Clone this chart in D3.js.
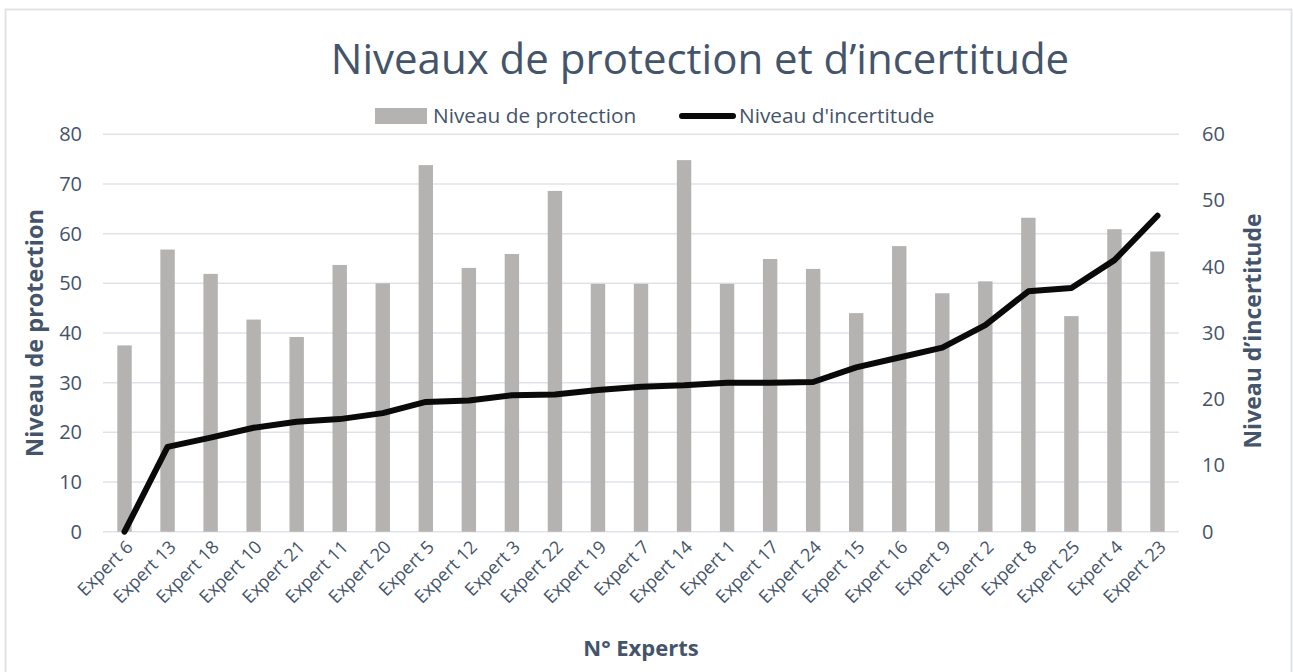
<!DOCTYPE html>
<html>
<head>
<meta charset="utf-8">
<script src="https://cdn.jsdelivr.net/npm/d3@7"></script>
<style>
  html, body { margin: 0; padding: 0; background: #fff; }
  svg { display: block; font-family: "Open Sans", "Noto Sans", sans-serif; }
</style>
</head>
<body>
<svg id="chart" width="1293" height="672"></svg>
<script>
// Experts, sorted by uncertainty level
const experts = ["Expert 6","Expert 13","Expert 18","Expert 10","Expert 21","Expert 11","Expert 20","Expert 5","Expert 12","Expert 3","Expert 22","Expert 19","Expert 7","Expert 14","Expert 1","Expert 17","Expert 24","Expert 15","Expert 16","Expert 9","Expert 2","Expert 8","Expert 25","Expert 4","Expert 23"];
// Protection level (left axis, bars)
const protection = [37.5,56.8,51.9,42.7,39.2,53.7,50,73.8,53.1,55.9,68.6,49.9,49.9,74.8,49.9,54.9,52.9,44,57.5,48,50.4,63.2,43.4,60.9,56.4];
// Uncertainty level (right axis, line)
const uncertainty = [0,12.8,14.2,15.7,16.6,17,17.9,19.6,19.8,20.6,20.7,21.4,21.9,22.1,22.5,22.5,22.6,24.8,26.3,27.8,31.2,36.3,36.8,41,47.7];
const leftTicks = [0,10,20,30,40,50,60,70,80];
const rightTicks = [0,10,20,30,40,50,60];

const font = "'Open Sans', 'Noto Sans', sans-serif";
const textColor = "#44546a";
const gridColor = "#dfe3e9";
const barColor = "#b4b3b1";

const svg = d3.select("#chart");

// chart frame
svg.append("rect")
  .attr("x", 5.5).attr("y", 9.5).attr("width", 1286).attr("height", 680)
  .attr("fill", "none").attr("stroke", "#e0e3e8").attr("stroke-width", 2);

const plot = { left: 103, right: 1179, top: 134.3, bottom: 531.7 };

const x = d3.scaleBand().domain(experts).range([plot.left, plot.right]).paddingInner(0.665).paddingOuter(0.3325);
const yL = d3.scaleLinear().domain([0, 80]).range([plot.bottom, plot.top]);
const yR = d3.scaleLinear().domain([0, 60]).range([plot.bottom, plot.top]);

// gridlines
svg.append("g")
  .selectAll("line").data(leftTicks).join("line")
  .attr("x1", plot.left).attr("x2", plot.right)
  .attr("y1", d => yL(d)).attr("y2", d => yL(d))
  .attr("stroke", gridColor).attr("stroke-width", 1.5);

// left axis
const gLeft = svg.append("g").attr("transform", `translate(${plot.left - 21},0)`)
  .call(d3.axisLeft(yL).tickValues(leftTicks).tickSize(0).tickPadding(0));
gLeft.select(".domain").remove();
gLeft.selectAll("text").attr("fill", textColor).attr("font-size", 20).attr("font-family", font);

// right axis
const gRight = svg.append("g").attr("transform", `translate(${plot.right + 23},0)`)
  .call(d3.axisRight(yR).tickValues(rightTicks).tickSize(0).tickPadding(0));
gRight.select(".domain").remove();
gRight.selectAll("text").attr("fill", textColor).attr("font-size", 20).attr("font-family", font);

// bars
svg.append("g").selectAll("rect").data(experts).join("rect")
  .attr("x", d => x(d)).attr("width", x.bandwidth())
  .attr("y", (d, i) => yL(protection[i]))
  .attr("height", (d, i) => yL(0) - yL(protection[i]))
  .attr("fill", barColor);

// uncertainty line
const line = d3.line()
  .x((d, i) => x(experts[i]) + x.bandwidth() / 2)
  .y(d => yR(d));
svg.append("path").datum(uncertainty)
  .attr("d", line)
  .attr("fill", "none").attr("stroke", "#0a0a0a")
  .attr("stroke-width", 6).attr("stroke-linejoin", "round").attr("stroke-linecap", "round");

// x axis labels
const gX = svg.append("g").attr("transform", `translate(0,${plot.bottom + 8})`)
  .call(d3.axisBottom(x).tickSize(0).tickPadding(0));
gX.select(".domain").remove();
gX.selectAll("text")
  .attr("fill", textColor).attr("font-size", 18).attr("font-family", font)
  .attr("text-anchor", "end").attr("dy", "0.35em")
  .attr("transform", "translate(5,4) rotate(-45)");

// title
svg.append("text").attr("x", 700).attr("y", 74).attr("text-anchor", "middle")
  .attr("fill", textColor).attr("font-size", 42).attr("font-family", font)
  .text("Niveaux de protection et d\u2019incertitude");

// legend
const lg = svg.append("g");
lg.append("rect").attr("x", 375).attr("y", 108).attr("width", 52).attr("height", 16).attr("fill", barColor);
lg.append("text").attr("x", 433).attr("y", 123).attr("fill", textColor).attr("font-size", 20.8)
  .text("Niveau de protection");
lg.append("line").attr("x1", 682).attr("x2", 733).attr("y1", 116).attr("y2", 116)
  .attr("stroke", "#0a0a0a").attr("stroke-width", 6).attr("stroke-linecap", "round");
lg.append("text").attr("x", 739).attr("y", 123).attr("fill", textColor).attr("font-size", 20.8)
  .text("Niveau d'incertitude");

// axis titles
svg.append("text").attr("transform", `translate(43,333) rotate(-90)`).attr("text-anchor", "middle")
  .attr("fill", textColor).attr("font-size", 23.5).attr("font-weight", "bold")
  .text("Niveau de protection");
svg.append("text").attr("transform", `translate(1261,331) rotate(-90)`).attr("text-anchor", "middle")
  .attr("fill", textColor).attr("font-size", 23).attr("font-weight", "bold")
  .text("Niveau d\u2019incertitude");
svg.append("text").attr("x", 641).attr("y", 656).attr("text-anchor", "middle")
  .attr("fill", textColor).attr("font-size", 22).attr("font-weight", "bold")
  .text("N\u00b0 Experts");
</script>
</body>
</html>
